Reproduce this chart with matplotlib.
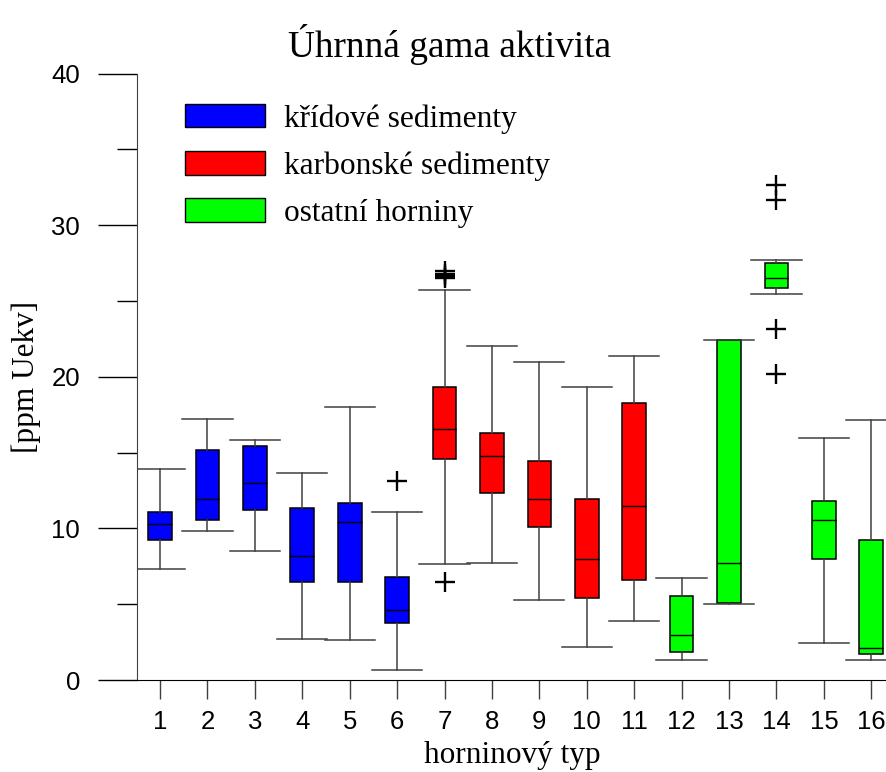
import numpy as np
import matplotlib
matplotlib.use("Agg")
import matplotlib.pyplot as plt
from matplotlib.patches import Patch

# horninove typy 1..16
types = list(range(1, 17))
groups = ["kridove"] * 6 + ["karbon"] * 5 + ["ostatni"] * 5

# statistiky boxplotu [ppm Uekv]
whislo = [7.34, 9.81, 8.51, 2.72, 2.61, 0.67, 7.63, 7.74, 5.29, 2.21, 3.88, 1.29, 5.03, 25.47, 2.46, 1.29]
q1 = [9.26, 10.58, 11.21, 6.46, 6.46, 3.75, 14.56, 12.36, 10.07, 5.43, 6.57, 1.82, 5.07, 25.85, 8.00, 1.73]
med = [10.31, 11.96, 13.02, 8.15, 10.44, 4.63, 16.59, 14.80, 11.96, 8.00, 11.46, 2.98, 7.74, 26.51, 10.55, 2.08]
q3 = [11.08, 15.20, 15.46, 11.35, 11.70, 6.81, 19.31, 16.32, 14.43, 11.96, 18.26, 5.53, 22.40, 27.52, 11.83, 9.26]
whishi = [13.92, 17.25, 15.83, 13.63, 18.04, 11.08, 25.74, 22.02, 20.98, 19.31, 21.36, 6.70, 22.40, 27.68, 15.97, 17.13]
fliers = {6: [13.13],
          7: [27.0, 26.8, 26.65, 26.5, 6.46],
          14: [32.67, 31.66, 23.16, 20.22]}

group_labels = {"kridove": "křídové sedimenty",
                "karbon": "karbonské sedimenty",
                "ostatni": "ostatní horniny"}
group_colors = {"kridove": "#0000ff", "karbon": "#ff0000", "ostatni": "#00ff00"}

serif = ["Liberation Serif", "DejaVu Serif"]
sans = ["Liberation Sans", "DejaVu Sans"]

fig = plt.figure(figsize=(8.87, 7.72), dpi=100)
ax = fig.add_axes([137 / 887, 92 / 772, 750 / 887, 606.3 / 772])

stats = []
for i, t in enumerate(types):
    stats.append({"whislo": whislo[i], "q1": q1[i], "med": med[i], "q3": q3[i],
                  "whishi": whishi[i], "fliers": fliers.get(t, [])})

bp = ax.bxp(stats, positions=types, widths=0.5, capwidths=1.06, patch_artist=True,
            boxprops=dict(edgecolor="black", linewidth=1.1),
            medianprops=dict(color="black", linewidth=1.0),
            whiskerprops=dict(color="#404040", linewidth=1.1),
            capprops=dict(color="#404040", linewidth=1.1),
            flierprops=dict(marker="+", markersize=14, markeredgewidth=1.7,
                            markeredgecolor="black", linestyle="none"))
for box, g in zip(bp["boxes"], groups):
    box.set_facecolor(group_colors[g])

ax.set_xlim(0.515, 16.331)
ax.set_ylim(0, 40)

ax.spines["top"].set_visible(False)
ax.spines["right"].set_visible(False)
ax.spines["left"].set_color("#404040")

ax.set_yticks([0, 10, 20, 30, 40])
ax.set_yticks([5, 15, 25, 35], minor=True)
ax.set_xticks(types)
ax.set_xticklabels([str(t) for t in types])
ax.tick_params(axis="y", which="major", length=28, width=1, pad=13, labelsize=18.5)
ax.tick_params(axis="y", which="minor", length=14.4, width=1)
ax.tick_params(axis="x", which="major", length=13.7, width=1, pad=8, labelsize=18.5,
               color="#404040")
for lab in ax.get_xticklabels() + ax.get_yticklabels():
    lab.set_family(sans)

ax.set_xlabel("horninový typ", family=serif, fontsize=22.5, labelpad=5)
ax.set_ylabel("[ppm Uekv]", family=serif, fontsize=22.5)
ax.yaxis.set_label_coords(-0.128, 0.5)

fig.text(0.507, 1 - 56.7 / 772, "Úhrnná gama aktivita", family=serif, fontsize=26.8,
         ha="center", va="baseline")

handles = [Patch(facecolor=group_colors[g], edgecolor="black", linewidth=1.0,
                 label=group_labels[g]) for g in ["kridove", "karbon", "ostatni"]]
ax.legend(handles=handles, loc="upper left", bbox_to_anchor=(185 / 887, 1 - 104 / 772),
          bbox_transform=fig.transFigure, frameon=False, borderpad=0, borderaxespad=0,
          handlelength=2.55, handleheight=0.77, handletextpad=0.6, labelspacing=0.56,
          prop=dict(family=serif, size=22.6))

fig.savefig("out.png", dpi=100)
